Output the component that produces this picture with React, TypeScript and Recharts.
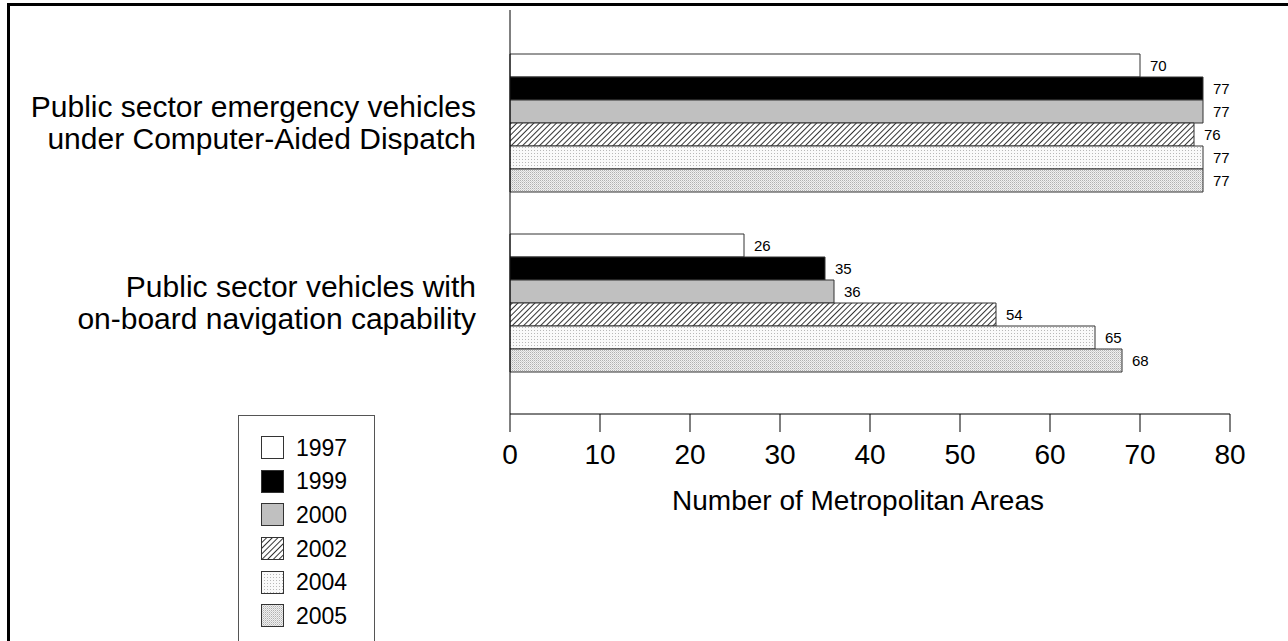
import React from "react";
import { Bar, BarChart, LabelList, XAxis, YAxis } from "recharts";

const categories = [
  "Public sector emergency vehicles|under Computer-Aided Dispatch",
  "Public sector vehicles with|on-board navigation capability",
];
const years = ["1997", "1999", "2000", "2002", "2004", "2005"];
const v1997 = [70, 26];
const v1999 = [77, 35];
const v2000 = [77, 36];
const v2002 = [76, 54];
const v2004 = [77, 65];
const v2005 = [77, 68];
const xTicks = [0, 10, 20, 30, 40, 50, 60, 70, 80];

const series = [v1997, v1999, v2000, v2002, v2004, v2005];
const fills = ["#ffffff", "#000000", "#c0c0c0", "url(#hatch)", "url(#dots4)", "url(#dots5)"];

const data = categories.map((name, i) => {
  const row: any = { name };
  years.forEach((y, j) => {
    row[y] = series[j][i];
  });
  return row;
});

const font = "'Liberation Sans', Arial, sans-serif";

const CategoryTick = (props: any) => {
  const { x, y, payload } = props;
  const lines = String(payload.value).split("|");
  return (
    <text x={x} y={y} textAnchor="end" fontSize={30} fontFamily={font} fill="#000">
      {lines.map((l, i) => (
        <tspan key={i} x={x} dy={i === 0 ? -5 : 32}>
          {l}
        </tspan>
      ))}
    </text>
  );
};

const LegendBox = () => (
  <div
    style={{
      position: "absolute",
      left: 238,
      top: 415,
      border: "1px solid #555",
      width: 137,
      height: 240,
      boxSizing: "border-box",
      paddingTop: 15,
      fontFamily: font,
      fontSize: 23,
      lineHeight: "26px",
      background: "#fff",
    }}
  >
    {years.map((y, i) => (
      <div key={y} style={{ display: "flex", alignItems: "center", height: 33.6, paddingLeft: 22 }}>
        <svg width={23} height={23} style={{ marginRight: 12 }}>
          <rect x={0.5} y={0.5} width={22} height={22} fill={fills[i]} stroke="#333" />
        </svg>
        <span>{y}</span>
      </div>
    ))}
  </div>
);

export default function App() {
  return (
    <div style={{ position: "absolute", left: 0, top: 0, width: 1288, height: 641, background: "#fff", overflow: "hidden" }}>
      <div
        style={{
          position: "absolute",
          left: 7,
          top: 3,
          width: 1290,
          height: 660,
          borderTop: "3px solid #000",
          borderLeft: "3px solid #000",
        }}
      />
      <div style={{ position: "absolute", left: 0, top: 0 }}>
        <BarChart
          width={1288}
          height={641}
          data={data}
          layout="vertical"
          margin={{ top: 10, right: 58, bottom: 127, left: 0 }}
          barCategoryGap={22}
          barGap={0}
        >
          <defs>
            <pattern id="hatch" patternUnits="userSpaceOnUse" width={4} height={4} patternTransform="rotate(45)">
              <rect width={4} height={4} fill="#fff" />
              <line x1={0} y1={0} x2={0} y2={4} stroke="#000" strokeWidth={1.6} />
            </pattern>
            <pattern id="dots4" patternUnits="userSpaceOnUse" width={3} height={3}>
              <rect width={3} height={3} fill="#fafafa" />
              <rect width={1} height={1} fill="#b8b8b8" />
            </pattern>
            <pattern id="dots5" patternUnits="userSpaceOnUse" width={2} height={2}>
              <rect width={2} height={2} fill="#f0f0f0" />
              <rect width={1} height={1} fill="#b0b0b0" />
              <rect x={1} y={1} width={1} height={1} fill="#d0d0d0" />
            </pattern>
          </defs>
          <XAxis
            type="number"
            domain={[0, 80]}
            ticks={xTicks}
            interval={0}
            height={100}
            tickSize={18}
            tickMargin={12}
            stroke="#000"
            tick={{ fontSize: 28, fill: "#000", fontFamily: font }}
            label={{
              value: "Number of Metropolitan Areas",
              position: "insideBottom",
              offset: 4,
              dx: -12,
              fontSize: 28,
              fill: "#000",
              fontFamily: font,
            }}
          />
          <YAxis
            type="category"
            dataKey="name"
            width={510}
            tickLine={false}
            tickSize={0}
            tickMargin={34}
            stroke="#000"
            padding={{ top: 22, bottom: 22 }}
            tick={<CategoryTick />}
          />
          {years.map((y, i) => (
            <Bar key={y} dataKey={y} fill={fills[i]} stroke="#333" strokeWidth={1} isAnimationActive={false}>
              <LabelList dataKey={y} position="right" offset={10} fontSize={15} fill="#000" fontFamily={font} />
            </Bar>
          ))}
        </BarChart>
      </div>
      <LegendBox />
    </div>
  );
}
